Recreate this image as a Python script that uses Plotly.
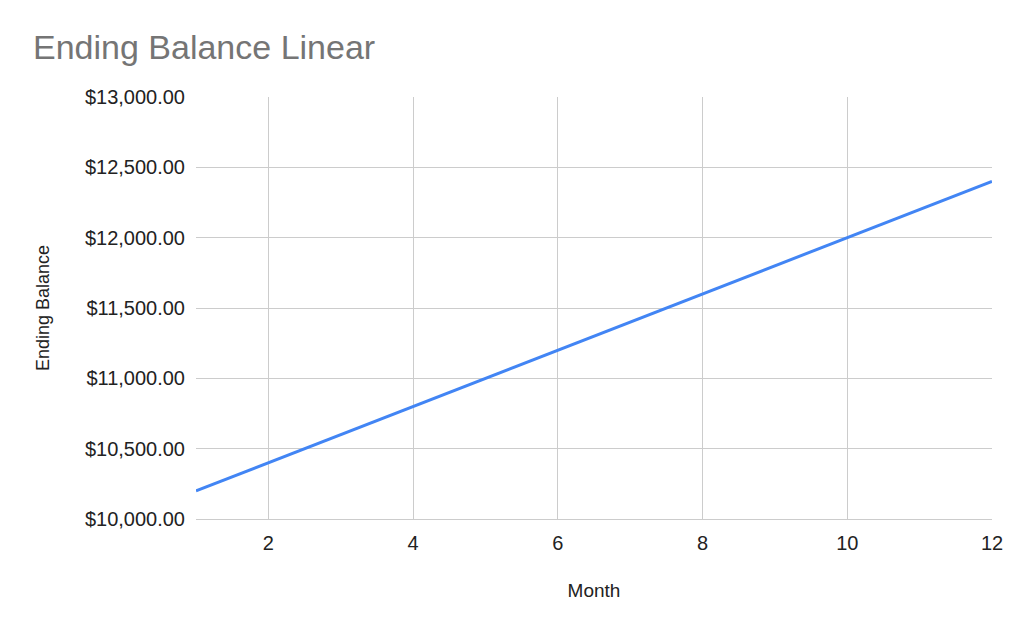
import plotly.graph_objects as go

months = [1, 2, 3, 4, 5, 6, 7, 8, 9, 10, 11, 12]
ending_balance = [10200, 10400, 10600, 10800, 11000, 11200, 11400, 11600, 11800, 12000, 12200, 12400]
x_ticks = [2, 4, 6, 8, 10, 12]
y_ticks = [10000, 10500, 11000, 11500, 12000, 12500, 13000]
y_tick_labels = ["$%s" % format(v, ",.2f") for v in y_ticks]

fig = go.Figure()
fig.add_trace(go.Scatter(x=months, y=ending_balance, mode="lines",
                         line=dict(color="#4285F4", width=3), showlegend=False))

fig.update_layout(
    width=1016, height=625,
    paper_bgcolor="white", plot_bgcolor="white",
    margin=dict(l=188, r=32, t=89, b=114),
    font=dict(family="Liberation Sans, Arial, sans-serif", color="#222222", size=20),
    title=dict(text="Ending Balance Linear", x=25/1016, xref="container", xanchor="left",
               y=1 - 39/625, yref="container", yanchor="middle",
               font=dict(size=34, color="#757575")),
)
fig.update_xaxes(range=[1, 12], tickvals=x_ticks, showgrid=True, gridcolor="#cccccc",
                 gridwidth=1, zeroline=False, showline=True, linecolor="#cccccc",
                 title=dict(text="Month", font=dict(size=19), standoff=30),
                 ticks="", ticklabelstandoff=6)
fig.update_yaxes(range=[10000, 13000], tickvals=y_ticks, ticktext=y_tick_labels,
                 showgrid=True, gridcolor="#cccccc", gridwidth=1, zeroline=False,
                 title=dict(text="Ending Balance", font=dict(size=18), standoff=30),
                 ticks="", ticklabelstandoff=10)

fig.write_html("out.html")
